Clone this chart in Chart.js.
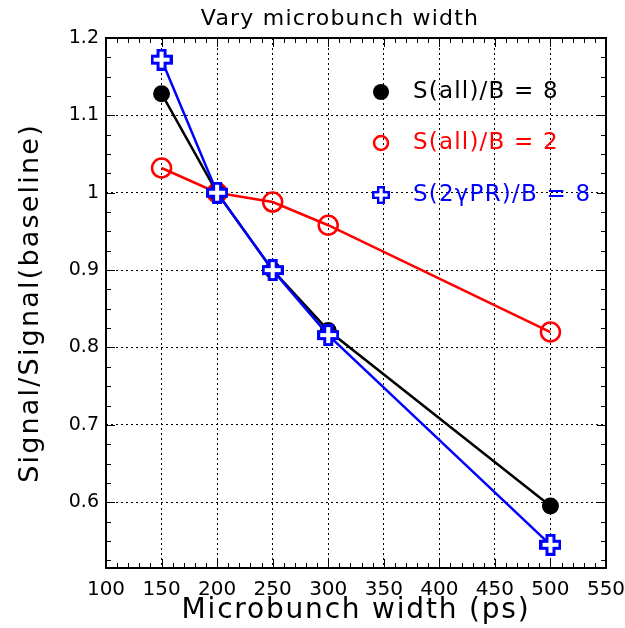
<!DOCTYPE html>
<html>
<head>
<meta charset="utf-8">
<script src="https://cdn.jsdelivr.net/npm/chart.js@4"></script>
<style>
  html, body { margin: 0; padding: 0; background: #fff; }
  #wrap { width: 625px; height: 628px; }
</style>
</head>
<body>
<div id="wrap"><canvas id="chart" width="625" height="628"></canvas></div>
<script>
// ---- data ----
const widths = [150, 200, 250, 300, 500];
const allB8 = [1.128, 1.0, 0.9, 0.822, 0.595];
const allB2 = [1.032, 1.0, 0.988, 0.958, 0.82];
const gprB8 = [1.172, 1.0, 0.9, 0.816, 0.545];
const yTicks = [0.6, 0.7, 0.8, 0.9, 1.0, 1.1, 1.2];
const legendLabels = ['S(all)/B = 8', 'S(all)/B = 2', 'S(2\u03b3PR)/B = 8'];

const FONT = "'DejaVu Sans', 'Liberation Sans', sans-serif";

// open cross marker (ROOT style)
function makeCross(size, color) {
    const c = document.createElement('canvas');
    c.width = size; c.height = size;
    const g = c.getContext('2d');
    const a = size * 0.32, m = size / 2, h = size / 2 - 1.5;
    g.beginPath();
    g.moveTo(m - a / 2, m - h); g.lineTo(m + a / 2, m - h);
    g.lineTo(m + a / 2, m - a / 2); g.lineTo(m + h, m - a / 2);
    g.lineTo(m + h, m + a / 2); g.lineTo(m + a / 2, m + a / 2);
    g.lineTo(m + a / 2, m + h); g.lineTo(m - a / 2, m + h);
    g.lineTo(m - a / 2, m + a / 2); g.lineTo(m - h, m + a / 2);
    g.lineTo(m - h, m - a / 2); g.lineTo(m - a / 2, m - a / 2);
    g.closePath();
    g.fillStyle = '#fff';
    g.fill();
    g.lineWidth = 3;
    g.strokeStyle = color;
    g.stroke();
    return c;
}
const crossImg = makeCross(22, '#0000ff');

const toXY = (ys) => widths.map((x, i) => ({ x: x, y: ys[i] }));

// frame, inner ticks, titles and legend
const rootStyle = {
    id: 'rootStyle',
    afterDraw(chart) {
        const { ctx, chartArea: a, scales } = chart;
        const xs = scales.x, ys = scales.y;
        ctx.save();
        ctx.strokeStyle = '#000';
        ctx.lineWidth = 1;
        ctx.beginPath();
        for (let v = 100; v <= 550; v += 10) {
            const px = Math.round(xs.getPixelForValue(v)) + 0.5;
            const len = v % 50 === 0 ? 9 : 5;
            ctx.moveTo(px, a.bottom); ctx.lineTo(px, a.bottom - len);
            ctx.moveTo(px, a.top); ctx.lineTo(px, a.top + len);
        }
        for (let k = 21; k <= 48; k++) {
            const v = k * 0.025;
            if (v < ys.min - 1e-9) continue;
            const py = Math.round(ys.getPixelForValue(v)) + 0.5;
            const len = k % 4 === 0 ? 9 : 5;
            ctx.moveTo(a.left, py); ctx.lineTo(a.left + len, py);
            ctx.moveTo(a.right, py); ctx.lineTo(a.right - len, py);
        }
        ctx.stroke();
        ctx.lineWidth = 2;
        ctx.strokeRect(a.left, a.top, a.right - a.left, a.bottom - a.top);

        ctx.fillStyle = '#000';
        ctx.textAlign = 'center';
        ctx.textBaseline = 'middle';

        // title
        ctx.font = '22px ' + FONT;
        ctx.letterSpacing = '1.2px';
        ctx.fillText('Vary microbunch width', 340, 19);

        // axis titles
        ctx.font = '28px ' + FONT;
        ctx.letterSpacing = '1.8px';
        ctx.textBaseline = 'alphabetic';
        ctx.fillText('Microbunch width (ps)', (a.left + a.right) / 2, 618);
        ctx.textBaseline = 'middle';

        ctx.save();
        ctx.translate(31, (a.top + a.bottom) / 2);
        ctx.rotate(-Math.PI / 2);
        ctx.font = '27px ' + FONT;
        ctx.letterSpacing = '2.2px';
        ctx.fillText('Signal/Signal(baseline)', 0, 0);
        ctx.restore();

        // legend
        const colors = ['#000', '#ff0000', '#0000ff'];
        const ly = [92, 143, 195];
        ctx.font = '23px ' + FONT;
        ctx.letterSpacing = '1.2px';
        ctx.textAlign = 'left';
        legendLabels.forEach((t, i) => {
            const mx = 381, my = ly[i];
            if (i === 0) {
                ctx.beginPath(); ctx.arc(mx, my, 8, 0, Math.PI * 2);
                ctx.fillStyle = '#000'; ctx.fill();
            } else if (i === 1) {
                ctx.beginPath(); ctx.arc(mx, my, 7, 0, Math.PI * 2);
                ctx.lineWidth = 2.5; ctx.strokeStyle = '#ff0000'; ctx.stroke();
            } else {
                ctx.drawImage(crossImg, mx - 9, my - 9, 18, 18);
            }
            ctx.fillStyle = colors[i];
            ctx.fillText(t, 413, my);
        });
        ctx.restore();
    }
};

new Chart(document.getElementById('chart'), {
    type: 'line',
    data: {
        datasets: [
            {
                label: legendLabels[0], data: toXY(allB8), order: 1,
                borderColor: '#000', backgroundColor: '#000', borderWidth: 2.5,
                pointRadius: 8.5, pointStyle: 'circle', pointBorderWidth: 0
            },
            {
                label: legendLabels[1], data: toXY(allB2), order: 2,
                borderColor: '#ff0000', backgroundColor: 'rgba(0,0,0,0)', borderWidth: 2.5,
                pointRadius: 9.5, pointStyle: 'circle', pointBorderWidth: 2.5
            },
            {
                label: legendLabels[2], data: toXY(gprB8), order: 0,
                borderColor: '#0000ff', backgroundColor: '#0000ff', borderWidth: 2.5,
                pointRadius: 11, pointStyle: crossImg
            }
        ]
    },
    options: {
        responsive: false,
        animation: false,
        layout: { padding: { top: 38, right: 19, left: 0, bottom: 0 } },
        plugins: { legend: { display: false }, title: { display: false }, tooltip: { enabled: false } },
        scales: {
            x: {
                type: 'linear', min: 100, max: 550,
                afterFit: (s) => { s.height = 60; s.paddingLeft = 0; s.paddingRight = 0; },
                ticks: { stepSize: 50, color: '#000', font: { family: FONT, size: 20 }, padding: 10, maxRotation: 0 },
                grid: { color: '#000', lineWidth: 1, drawTicks: false, tickLength: 0 },
                border: { display: false, dash: [2, 3] }
            },
            y: {
                min: 0.515, max: 1.2,
                afterFit: (s) => { s.width = 106; s.paddingTop = 0; s.paddingBottom = 0; },
                afterBuildTicks: (s) => { s.ticks = yTicks.map(v => ({ value: v })); },
                ticks: { color: '#000', font: { family: FONT, size: 19 }, padding: 7,
                         callback: (v) => String(+(+v).toFixed(1)) },
                grid: { color: '#000', lineWidth: 1, drawTicks: false, tickLength: 0 },
                border: { display: false, dash: [2, 3] }
            }
        }
    },
    plugins: [rootStyle]
});
</script>
</body>
</html>
